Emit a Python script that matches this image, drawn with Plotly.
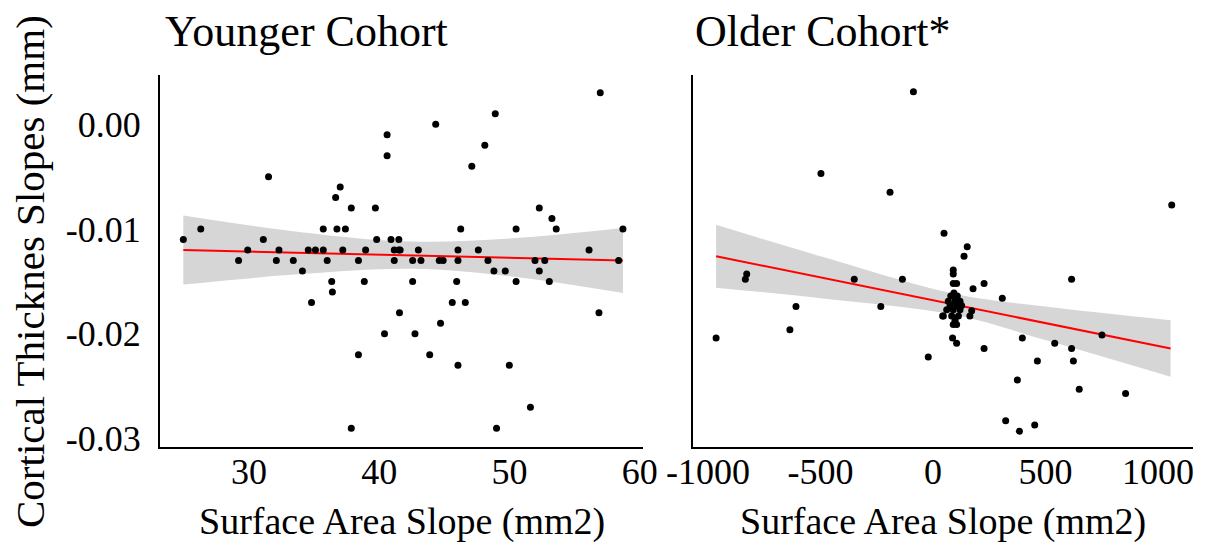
import plotly.graph_objects as go

# Younger cohort: surface area slope (mm2) vs cortical thickness slope (mm)
young_sa = [24.96, 26.3, 31.5, 31.1, 29.9, 29.2, 32.3, 32.1, 33.4, 34.1,
            34.8, 34.55, 35.1, 35.7, 35.7, 36.0, 36.35, 36.4, 36.65, 37.0,
            36.75, 37.4, 37.2, 37.85, 37.85, 38.4, 38.4, 38.85, 38.95, 39.7,
            39.8, 40.4, 40.6, 40.6, 40.9, 41.5, 41.15, 41.5, 41.6, 41.15,
            41.55, 42.56, 43.0, 43.2, 42.56, 42.74, 43.87, 44.7, 44.6, 44.9,
            45.6, 45.94, 46.04, 46.04, 46.25, 46.04, 46.6, 47.6, 48.34, 48.8,
            49.0, 49.67, 49.98, 50.5, 50.5, 51.6, 51.95, 52.28, 52.28, 52.7,
            53.05, 53.25, 53.58, 56.1, 56.86, 58.37, 58.7, 44.33, 48.9, 56.96,
            48.1, 47.1]
young_ct = [-0.011, -0.010, -0.005, -0.011, -0.012, -0.013, -0.012, -0.013, -0.013, -0.014,
            -0.017, -0.012, -0.012, -0.012, -0.010, -0.013, -0.015, -0.016, -0.007, -0.006,
            -0.010, -0.010, -0.012, -0.008, -0.029, -0.013, -0.022, -0.015, -0.012, -0.008,
            -0.011, -0.020, -0.001, -0.003, -0.011, -0.011, -0.012, -0.012, -0.012, -0.013,
            -0.018, -0.013, -0.012, -0.013, -0.015, -0.020, -0.022, -0.019, -0.013, -0.013,
            -0.017, -0.015, -0.013, -0.012, -0.010, -0.023, -0.017, -0.012, -0.013, -0.014,
            -0.029, -0.014, -0.023, -0.010, -0.015, -0.027, -0.013, -0.008, -0.014, -0.013,
            -0.015, -0.009, -0.010, -0.012, -0.018, -0.013, -0.010, 0.000, 0.001, 0.003,
            -0.002, -0.004]

# Older cohort
old_sa = [-87, -498, -191, -834, -828, -350, -136, -609, -232, -636,
          -964, -21, 1061, 49, 152, 138, 90, 90, 90, 105,
          227, 178, 616, 308, 43, 172, 164, 90, 105, 87,
          105, 227, 397, 541, 616, 751, 464, 624, 375, 650,
          856, 323, 384, 452, 93, 79, 108, 68, 98, 120,
          76, 105, 127, 61, 90, 120, 46, 83, 113, 98]
old_ct = [0.0031, -0.0047, -0.0065, -0.0148, -0.0143, -0.0148, -0.0148, -0.0174, -0.0174, -0.0196,
          -0.0204, -0.0222, -0.0077, -0.0104, -0.0117, -0.0126, -0.0139, -0.0143, -0.0152, -0.0152,
          -0.0152, -0.0157, -0.0148, -0.0166, -0.0183, -0.0178, -0.0183, -0.0191, -0.0191, -0.0204,
          -0.0209, -0.0214, -0.0204, -0.0209, -0.0214, -0.0201, -0.0226, -0.0226, -0.0244, -0.0253,
          -0.0257, -0.0283, -0.0293, -0.0287, -0.0161, -0.0164, -0.0164, -0.0169, -0.0169, -0.0169,
          -0.0173, -0.0173, -0.0173, -0.0177, -0.0177, -0.0177, -0.0183, -0.0183, -0.0183, -0.0187]

# Linear fit and its confidence band
young_fit_x = [24.96, 58.7]
young_fit_y = [-0.0120, -0.0130]
young_band_x = [24.96, 34, 42.5, 50, 58.7]
young_band_hi = [-0.0087, -0.0103, -0.0112, -0.0109, -0.0099]
young_band_lo = [-0.0153, -0.0143, -0.0138, -0.0145, -0.0161]

old_fit_x = [-964, 1056]
old_fit_y = [-0.0126, -0.0214]
old_band_x = [-964, -500, 100, 500, 1056]
old_band_hi = [-0.0096, -0.0126, -0.0162, -0.0174, -0.0187]
old_band_lo = [-0.0156, -0.0166, -0.0182, -0.0206, -0.0241]

# Axis ticks and titles
y_tickvals = [0.0, -0.01, -0.02, -0.03]
y_ticktext = ["0.00", "-0.01", "-0.02", "-0.03"]
young_xticks = [30, 40, 50, 60]
young_xticktext = ["30", "40", "50", "60"]
old_xticks = [-1000, -500, 0, 500, 1000]
old_xticktext = ["-1000", "-500", "0", "500", "1000"]
panel_titles = ["Younger Cohort", "Older Cohort*"]
x_title = "Surface Area Slope (mm2)"
y_title = "Cortical Thicknes Slopes (mm)"

FONT = "Liberation Serif, Times New Roman, serif"
BAND = "rgb(214,214,214)"

fig = go.Figure()


def add_panel(xa, ya, sx, sy, bx, bhi, blo, fx, fy):
    fig.add_trace(go.Scatter(x=bx, y=blo, mode="lines", line=dict(width=0, shape="spline"),
                             xaxis=xa, yaxis=ya, showlegend=False, hoverinfo="skip"))
    fig.add_trace(go.Scatter(x=bx, y=bhi, mode="lines", line=dict(width=0, shape="spline"),
                             fill="tonexty", fillcolor=BAND,
                             xaxis=xa, yaxis=ya, showlegend=False, hoverinfo="skip"))
    fig.add_trace(go.Scatter(x=fx, y=fy, mode="lines", line=dict(color="#ff0000", width=2),
                             xaxis=xa, yaxis=ya, showlegend=False))
    fig.add_trace(go.Scatter(x=sx, y=sy, mode="markers",
                             marker=dict(color="black", size=7),
                             xaxis=xa, yaxis=ya, showlegend=False))


add_panel("x", "y", young_sa, young_ct, young_band_x, young_band_hi, young_band_lo,
          young_fit_x, young_fit_y)
add_panel("x2", "y2", old_sa, old_ct, old_band_x, old_band_hi, old_band_lo,
          old_fit_x, old_fit_y)

W, H = 1211, 546
y_dom = [(H - 447) / H, (H - 75) / H]
y_range = [-0.0308, 0.0047]

axis_common = dict(showgrid=False, zeroline=False, showline=True, linecolor="black",
                   linewidth=2, ticks="", automargin=False,
                   tickfont=dict(family=FONT, size=36, color="black"))

fig.update_layout(
    width=W, height=H,
    margin=dict(l=0, r=0, t=0, b=0),
    paper_bgcolor="white", plot_bgcolor="white",
    xaxis=dict(domain=[160 / W, 643 / W], range=[23.17, 60.24], tickvals=young_xticks,
               ticktext=young_xticktext, ticklabelstandoff=-8, anchor="y", **axis_common),
    yaxis=dict(domain=y_dom, range=y_range, tickvals=y_tickvals, ticktext=y_ticktext,
               ticklabelstandoff=10, anchor="x", **axis_common),
    xaxis2=dict(domain=[693 / W, 1193 / W], range=[-1066.7, 1155.6], tickvals=old_xticks,
                ticktext=old_xticktext, ticklabelstandoff=-8, anchor="y2", **axis_common),
    yaxis2=dict(domain=y_dom, range=y_range, showticklabels=False, anchor="x2", **axis_common),
)

for title, left in zip(panel_titles, [163, 693]):
    fig.add_annotation(text=title, x=left / W, y=(H - 58) / H, xref="paper", yref="paper",
                       xanchor="left", yanchor="bottom", showarrow=False,
                       font=dict(family=FONT, size=44, color="black"))

for cx in [(160 + 643) / 2, (693 + 1193) / 2]:
    fig.add_annotation(text=x_title, x=cx / W, y=(H - 521) / H, xref="paper", yref="paper",
                       xanchor="center", yanchor="middle", showarrow=False,
                       font=dict(family=FONT, size=38, color="black"))

fig.add_annotation(text=y_title, x=30 / W, y=(H - 272) / H, xref="paper", yref="paper",
                   xanchor="center", yanchor="middle", showarrow=False, textangle=-90,
                   font=dict(family=FONT, size=41, color="black"))

fig.write_html("out.html")
